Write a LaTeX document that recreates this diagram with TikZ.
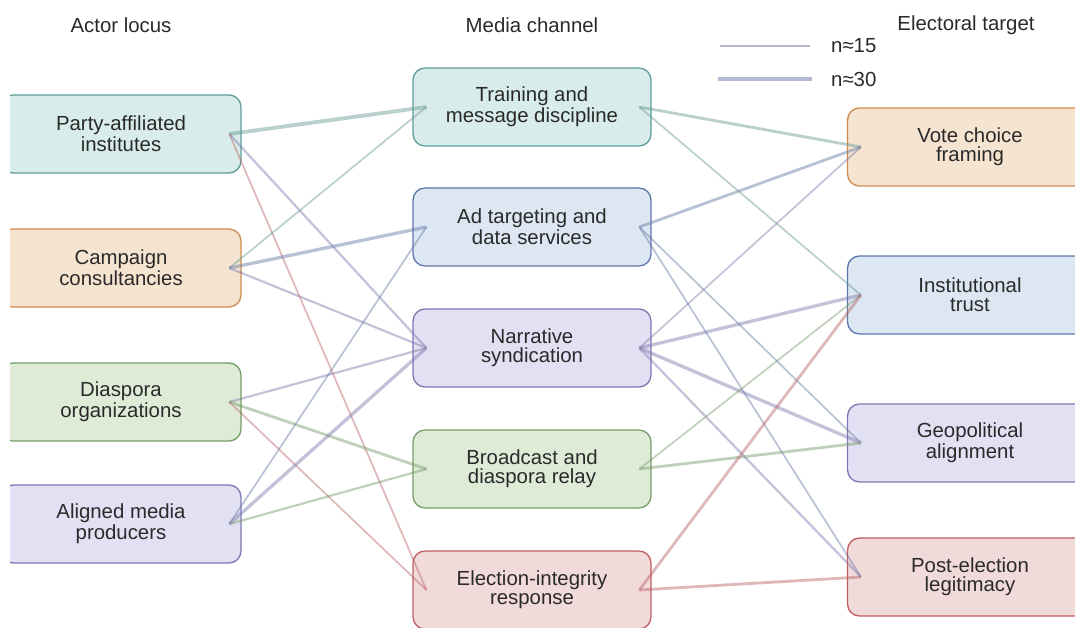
\documentclass[tikz,border=0pt]{standalone}
\usepackage{fontspec}
\setmainfont{Liberation Sans}
\definecolor{tealdk}{HTML}{5F9C97}
\definecolor{teallt}{HTML}{D8ECEA}
\definecolor{orangedk}{HTML}{D08A4E}
\definecolor{orangelt}{HTML}{F5E4D0}
\definecolor{greendk}{HTML}{739E66}
\definecolor{greenlt}{HTML}{DEEBD7}
\definecolor{bluedk}{HTML}{5D77A8}
\definecolor{bluelt}{HTML}{DDE6F3}
\definecolor{purpledk}{HTML}{7D78B3}
\definecolor{purplelt}{HTML}{E2E0F3}
\definecolor{reddk}{HTML}{C25C5F}
\definecolor{redlt}{HTML}{F1DADA}
\definecolor{inkgray}{HTML}{2A2A2A}
\definecolor{keyline}{HTML}{B3B9CE}

\begin{document}
\begin{tikzpicture}[x=0.02cm, y=-0.02cm, text=inkgray,
    font=\fontsize{11.6}{10.6}\selectfont,
    tile/.style={draw=#1dk, fill=#1lt, rounded corners=0.24cm, line width=0.75pt,
      minimum height=1.56cm, align=center},
    link/.style={#1dk!85!gray, opacity=0.45}]
  \fill[white] (0,0) rectangle (1075,628);
  \useasboundingbox (0,0) rectangle (1075,628);
  % ---- column heads ----
  \node (hactor) at (121,25) {Actor locus};
  \node (hmedia) at (532,25) {Media channel};
  \node (htarget) at (966,25) {Electoral target};
  % ---- line width key ----
  \node[anchor=west] (k15) at (825,46) {n≈15};
  \node[anchor=west] (k30) at (825,79) {n≈30};
  \draw[keyline, line width=0.85pt] (720,46) -- (810,46);
  \draw[keyline, line width=2.3pt] (718,79) -- (812,79);
  \begin{scope}
    \clip (10,0) rectangle (1075,628);
    % ---- actors ----
    \node[tile=teal, minimum width=4.8cm] (pa) at (121,134) {Party-affiliated\\institutes};
    \node[tile=orange, minimum width=4.8cm] (cc) at (121,268) {Campaign\\consultancies};
    \node[tile=green, minimum width=4.8cm] (do) at (121,402) {Diaspora\\organizations};
    \node[tile=purple, minimum width=4.8cm] (am) at (121,524) {Aligned media\\producers};
    % ---- channels ----
    \node[tile=teal, minimum width=4.76cm] (tr) at (532,107) {Training and\\message discipline};
    \node[tile=blue, minimum width=4.76cm] (ad) at (532,227) {Ad targeting and\\data services};
    \node[tile=purple, minimum width=4.76cm] (ns) at (532,348) {Narrative\\syndication};
    \node[tile=green, minimum width=4.76cm] (br) at (532,469) {Broadcast and\\diaspora relay};
    \node[tile=red, minimum width=4.76cm] (ei) at (532,590) {Election-integrity\\response};
    % ---- targets ----
    \node[tile=orange, minimum width=4.9cm] (vc) at (970,147) {Vote choice\\framing};
    \node[tile=blue, minimum width=4.9cm] (it) at (970,295) {Institutional\\trust};
    \node[tile=purple, minimum width=4.9cm] (ga) at (970,443) {Geopolitical\\alignment};
    \node[tile=red, minimum width=4.9cm] (pl) at (970,577) {Post-election\\legitimacy};
  \end{scope}
  % ---- flows, width in px ----
  \foreach \a/\b/\w/\c in {pa/tr/3.8/teal, pa/ns/2.2/purple, pa/ei/1.7/red,
      cc/tr/1.7/teal, cc/ad/3.3/blue, cc/ns/2.2/purple,
      do/ns/2.2/purple, do/br/2.8/green, do/ei/1.7/red,
      am/ad/1.7/blue, am/ns/3.3/purple, am/br/2.2/green,
      tr/vc/2.8/teal, tr/it/1.7/teal,
      ad/vc/2.8/blue, ad/ga/1.7/blue, ad/pl/1.7/blue,
      ns/vc/1.7/purple, ns/it/3.3/purple, ns/ga/3.3/purple, ns/pl/2.2/purple,
      br/it/1.7/green, br/ga/2.8/green,
      ei/it/2.8/red, ei/pl/2.8/red}
    \draw[link=\c, line width=\w*0.57pt] ([xshift=-7pt]\a.east) -- ([xshift=8pt]\b.west);
\end{tikzpicture}
\end{document}
